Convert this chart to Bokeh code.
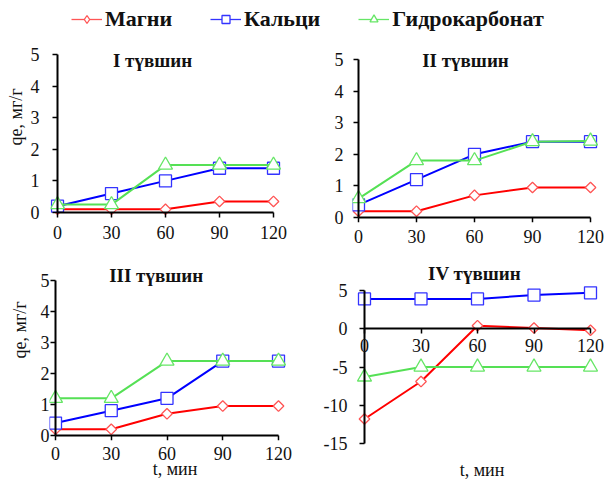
import math
from bokeh.plotting import figure
from bokeh.layouts import column, row
from bokeh.models import (Range1d, Label, LabelSet, Legend, LegendItem, FixedTicker,
                          LinearAxis, Title, ColumnDataSource)
from bokeh.core.properties import value
from bokeh.embed import file_html
from bokeh.resources import INLINE

# ---------------- data ----------------
t_min = [0, 30, 60, 90, 120]
x_ticks = [0, 30, 60, 90, 120]

mg_I = [0.1, 0.1, 0.1, 0.35, 0.35]
ca_I = [0.2, 0.6, 1.0, 1.4, 1.4]
hc_I = [0.25, 0.25, 1.5, 1.5, 1.5]

mg_II = [0.2, 0.2, 0.7, 0.95, 0.95]
ca_II = [0.4, 1.2, 2.0, 2.4, 2.4]
hc_II = [0.6, 1.8, 1.8, 2.4, 2.42]

mg_III = [0.2, 0.2, 0.7, 0.95, 0.95]
ca_III = [0.4, 0.8, 1.2, 2.4, 2.4]
hc_III = [1.2, 1.2, 2.4, 2.4, 2.4]

mg_IV = [-11.8, -6.9, 0.4, 0.1, -0.2]
ca_IV = [3.9, 3.9, 3.9, 4.4, 4.7]
hc_IV = [-6.3, -5.0, -5.0, -5.0, -5.0]

y_ticks_pos = [0, 1, 2, 3, 4, 5]
y_ticks_IV = [-15, -10, -5, 0, 5]

series_names = ["Магни", "Кальци", "Гидрокарбонат"]
panel_titles = ["I түвшин", "II түвшин", "III  түвшин", "IV түвшин"]
y_label = "qe, мг/г"
x_label = "t, мин"

# ---------------- style ----------------
FONT = "Liberation Serif"
TXT = "#111111"
TICK_FS = "18px"
line_colors = ["#FF0000", "#0000FF", "#55E055"]
marker_colors = ["#FF5555", "#3333FF", "#66E666"]
markers = ["square", "square", "triangle"]
marker_sizes = [7.5, 12, 14]
marker_angles = [math.pi / 4, 0, 0]
legend_markers = ["diamond", "square", "triangle"]
legend_sizes = [11, 9, 10]


def style_fixed_axis(ax, ticks, bounds):
    # axis line + ticks drawn exactly at the zero of the other axis
    ax.fixed_location = 0
    ax.bounds = bounds
    ax.ticker = FixedTicker(ticks=ticks)
    ax.axis_line_width = 2
    ax.axis_line_color = "black"
    ax.major_tick_line_color = "black"
    ax.major_tick_line_width = 1.5
    ax.major_tick_out = 0
    ax.major_tick_in = 5
    ax.minor_tick_line_color = None
    ax.major_label_text_font_size = "0px"
    ax.major_label_standoff = 0
    ax.major_label_overrides = {v: "" for v in ticks}


def label_axis(ticks, standoff, overrides=None):
    # axis at the frame edge that only carries the tick labels
    ax = LinearAxis(ticker=FixedTicker(ticks=ticks))
    ax.axis_line_color = None
    ax.major_tick_line_color = None
    ax.minor_tick_line_color = None
    ax.major_tick_out = 0
    ax.major_tick_in = 0
    ax.major_label_standoff = standoff
    ax.major_label_text_font = FONT
    ax.major_label_text_font_size = TICK_FS
    ax.major_label_text_color = TXT
    if overrides:
        ax.major_label_overrides = overrides
    return ax


def title_axis(text, standoff):
    # axis that only carries the axis title
    ax = LinearAxis(ticker=FixedTicker(ticks=[]))
    ax.axis_line_color = None
    ax.major_tick_line_color = None
    ax.minor_tick_line_color = None
    ax.major_tick_out = 0
    ax.major_tick_in = 0
    ax.major_label_standoff = 0
    ax.axis_label = text
    ax.axis_label_standoff = standoff
    ax.axis_label_text_font = FONT
    ax.axis_label_text_font_style = "normal"
    ax.axis_label_text_font_size = "18px"
    ax.axis_label_text_color = TXT
    return ax


def side_title(text, offset, standoff):
    return Title(text=text, align="left", offset=offset, standoff=standoff,
                 vertical_align="middle", text_font=FONT,
                 text_font_style="normal", text_font_size="18px",
                 text_color=TXT)


def make_panel(origin, frame, axis_px, yb, yt, yticks, series, title, title_px):
    ox, oy = origin
    bl, bt, fw, fh, br, bb = frame
    x0, x1, ytp, ybp = axis_px
    x0 -= ox; x1 -= ox; ytp -= oy; ybp -= oy
    sx = (x1 - x0) / 120.0
    sy = (ybp - ytp) / (yt - yb)
    xs = (bl - x0) / sx
    xe = (bl + fw - x0) / sx
    ye = yt + (ytp - bt) / sy
    ys = yb - (bt + fh - ybp) / sy

    def to_data(px, py):
        return ((px - ox - x0) / sx, yt - (py - oy - ytp) / sy)

    p = figure(frame_width=fw, frame_height=fh,
               min_border_left=bl, min_border_right=br,
               min_border_top=bt, min_border_bottom=bb,
               x_range=Range1d(xs, xe), y_range=Range1d(ys, ye),
               x_axis_location="above", y_axis_location="right",
               output_backend="svg", toolbar_location=None)
    p.grid.visible = False
    p.outline_line_color = None
    p.background_fill_color = "white"
    p.border_fill_color = "white"

    style_fixed_axis(p.xaxis[0], x_ticks, (0, 120))
    style_fixed_axis(p.yaxis[0], yticks, (yb, yt))

    for vals, lc, mc, mk, ms, ma in zip(series, line_colors, marker_colors,
                                         markers, marker_sizes, marker_angles):
        p.line(t_min, vals, line_color=lc, line_width=2)
        p.scatter(t_min, vals, marker=mk, size=ms, angle=ma,
                  fill_color="white", line_color=mc, line_width=1.3)

    tx, ty = to_data(*title_px)
    p.add_layout(Label(x=tx, y=ty, text=title, text_align="center",
                       text_baseline="middle", text_font=FONT,
                       text_font_style="bold", text_font_size="19px",
                       text_color=TXT))
    return p


# ---- panel I ----  (frame: page x 50..282, y 40..218)
pI = make_panel((0, 34), (50, 6, 232, 178, 18, 32), (57, 273, 54, 212), 0, 5,
                y_ticks_pos, [mg_I, ca_I, hc_I], panel_titles[0], (152, 59.5))
pI.add_layout(label_axis(y_ticks_pos, 11), "left")
pI.add_layout(label_axis(x_ticks, 7), "below")
pI.add_layout(side_title(y_label, 73, 2), "left")

# ---- panel II ----
pII = make_panel((300, 34), (52, 6, 248, 182, 7, 28), (358, 590, 59, 217), 0, 5,
                 y_ticks_pos, [mg_II, ca_II, hc_II], panel_titles[1], (465, 59.5))
pII.add_layout(label_axis(y_ticks_pos, 9), "left")
pII.add_layout(label_axis(x_ticks, 7), "below")

# ---- panel III ----  (frame: page x 49..300, y 258..437)
pIII = make_panel((0, 250), (49, 8, 251, 179, 0, 42), (55, 278, 277, 432), 0, 5,
                  y_ticks_pos, [mg_III, ca_III, hc_III], panel_titles[2], (158, 272))
pIII.add_layout(label_axis(y_ticks_pos, 0), "left")
pIII.add_layout(label_axis(x_ticks, 6), "below")
pIII.add_layout(title_axis(x_label, -4), "below")
pIII.add_layout(side_title(y_label, 82, 13), "left")

# ---- panel IV ----  (frame: page x 356..607, y 261..445)
pIV = make_panel((300, 250), (56, 11, 251, 184, 0, 34), (364, 590, 290, 443), -15, 5,
                 y_ticks_IV, [mg_IV, ca_IV, hc_IV], panel_titles[3], (474, 273))
pIV.add_layout(label_axis(y_ticks_IV, 9, {v: str(v) for v in y_ticks_IV}), "left")
xlab_src = ColumnDataSource(dict(x=x_ticks, text=[str(v) for v in x_ticks]))
pIV.add_layout(LabelSet(x="x", y=0, text="text", source=xlab_src,
                        text_align="center", text_baseline="top", y_offset=-10,
                        text_font=value(FONT), text_font_size=value(TICK_FS),
                        text_color=TXT))
pIV.add_layout(title_axis(x_label, 14), "below")

# ---------------- legend ----------------
leg = figure(frame_width=607, frame_height=34, min_border=0,
             x_range=Range1d(1000, 1001), y_range=Range1d(1000, 1001),
             x_axis_location=None, y_axis_location=None,
             output_backend="svg", toolbar_location=None)
leg.grid.visible = False
leg.outline_line_color = None
items = []
for name, vals, mc, mk, ms in zip(series_names, [mg_I, ca_I, hc_I], marker_colors,
                                   legend_markers, legend_sizes):
    r1 = leg.line(t_min, vals, line_color=mc, line_width=1.3)
    r2 = leg.scatter(t_min, vals, marker=mk, size=ms,
                     fill_color="white", line_color=mc, line_width=1.3)
    items.append(LegendItem(label=name, renderers=[r1, r2]))
legend = Legend(items=items, orientation="horizontal", location=(71, 2),
                glyph_width=31, glyph_height=20, label_standoff=3, spacing=38,
                padding=0, margin=0, border_line_color=None,
                background_fill_alpha=0,
                label_text_font=FONT, label_text_font_style="bold",
                label_text_font_size="22px", label_text_color=TXT)
leg.add_layout(legend)

layout = column(leg, row(pI, pII), row(pIII, pIV))
open("out.html", "w").write(file_html(layout, INLINE))
